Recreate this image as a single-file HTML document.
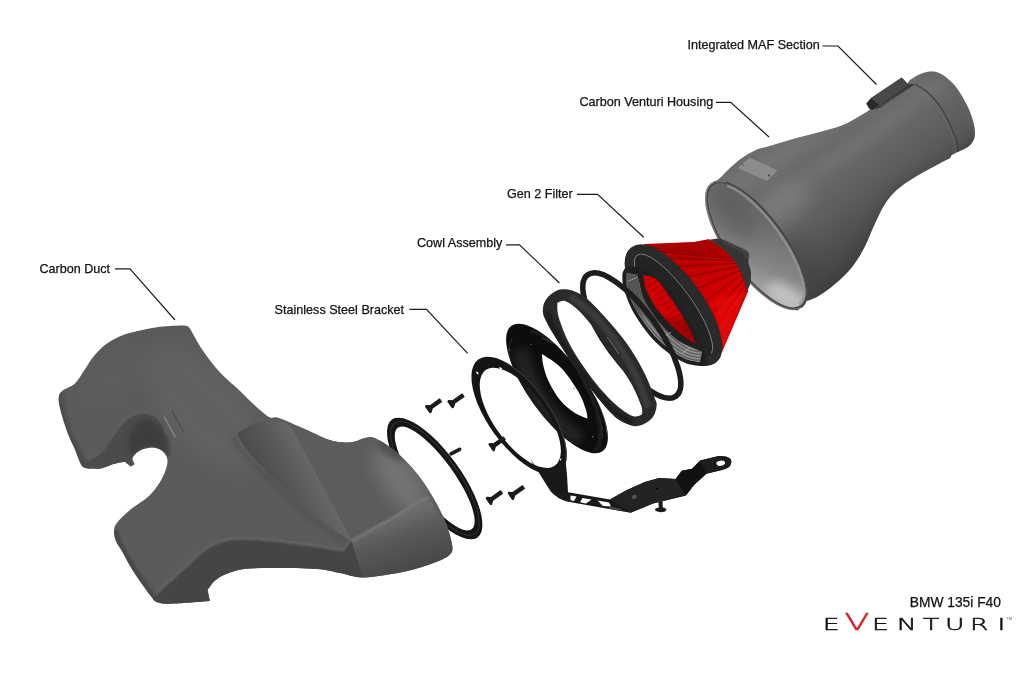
<!DOCTYPE html>
<html><head><meta charset="utf-8"><title>Eventuri BMW 135i F40 exploded view</title>
<style>
html,body{margin:0;padding:0;background:#fff;}
body{width:1024px;height:683px;overflow:hidden;}
svg{display:block}
.lb{font-family:"Liberation Sans",sans-serif;font-size:12.6px;fill:#111;stroke:#111;stroke-width:0.25px;}
.logo{font-family:"DejaVu Sans","Liberation Sans",sans-serif;font-weight:200;font-size:16.6px;fill:#111;stroke:#111;stroke-width:0.5px;vector-effect:non-scaling-stroke;}
.logoV{font-size:22.8px;fill:#d4202a;stroke:#d4202a;}
</style></head>
<body>
<svg width="1024" height="683" viewBox="0 0 1024 683">
<rect width="1024" height="683" fill="#fff"/>
<defs>
<filter id="b1" x="-20%" y="-20%" width="140%" height="140%"><feGaussianBlur stdDeviation="1"/></filter>
<filter id="b2" x="-20%" y="-20%" width="140%" height="140%"><feGaussianBlur stdDeviation="2.5"/></filter>
<filter id="b4" x="-30%" y="-30%" width="160%" height="160%"><feGaussianBlur stdDeviation="5"/></filter>
<filter id="b8" x="-30%" y="-30%" width="160%" height="160%"><feGaussianBlur stdDeviation="9"/></filter>
<linearGradient id="gHouse" gradientUnits="userSpaceOnUse" x1="803" y1="114.3" x2="897" y2="243.7">
  <stop offset="0" stop-color="#6c6c6c"/><stop offset="0.12" stop-color="#747474"/><stop offset="0.25" stop-color="#6a6a6a"/><stop offset="0.34" stop-color="#707070"/>
  <stop offset="0.45" stop-color="#666"/><stop offset="0.6" stop-color="#5d5d5d"/><stop offset="0.75" stop-color="#525252"/><stop offset="0.9" stop-color="#464646"/><stop offset="1" stop-color="#404040"/>
</linearGradient>
<linearGradient id="gInside" gradientUnits="userSpaceOnUse" x1="722" y1="188" x2="796" y2="304">
  <stop offset="0" stop-color="#5c5c5c"/><stop offset="0.3" stop-color="#6c6c6c"/><stop offset="0.6" stop-color="#858585"/><stop offset="0.85" stop-color="#aeaeae"/><stop offset="1" stop-color="#c6c6c6"/>
</linearGradient>
<linearGradient id="gRed" gradientUnits="userSpaceOnUse" x1="680" y1="238" x2="735" y2="335">
  <stop offset="0" stop-color="#b80000"/><stop offset="0.4" stop-color="#c20000"/><stop offset="0.7" stop-color="#d60000"/><stop offset="1" stop-color="#e20000"/>
</linearGradient>
<linearGradient id="gHump" gradientUnits="userSpaceOnUse" x1="247" y1="452" x2="293" y2="427">
  <stop offset="0" stop-color="#4b4b4b"/><stop offset="0.45" stop-color="#575757"/><stop offset="1" stop-color="#696969"/>
</linearGradient>
<linearGradient id="gCham" gradientUnits="userSpaceOnUse" x1="390" y1="520" x2="408" y2="572">
  <stop offset="0" stop-color="#6b6b6b"/><stop offset="0.35" stop-color="#595959"/><stop offset="1" stop-color="#484848"/>
</linearGradient>
</defs>
<clipPath id="cpHouse"><path d="M715.8,181.0 C716.5,180.5 717.6,180.2 720.0,178.0 C722.4,175.8 726.3,171.3 730.0,168.0 C733.7,164.7 737.7,161.0 742.0,158.0 C746.3,155.0 751.7,151.9 756.0,150.0 C760.3,148.1 761.8,148.3 768.0,146.5 C774.2,144.7 784.7,141.3 793.0,139.0 C801.3,136.7 809.7,134.8 818.0,132.5 C826.3,130.2 835.5,128.1 843.0,125.0 C850.5,121.9 858.0,116.9 863.0,114.0 C868.0,111.1 871.3,108.6 873.0,107.5 C871.9,106.8 867.4,104.2 866.3,103.5 C867.1,102.6 870.3,98.8 871.1,97.9 C876.2,94.5 896.6,80.8 901.7,77.4 C902.7,78.4 906.5,82.5 907.5,83.5 C907.9,82.9 909.4,80.6 909.8,80.0 C911.4,79.1 915.9,75.9 919.4,74.5 C922.9,73.1 926.9,71.6 930.7,71.6 C934.5,71.6 938.0,72.1 942.0,74.5 C946.0,76.9 950.9,81.0 954.9,85.8 C958.9,90.6 963.1,97.9 966.1,103.5 C969.1,109.1 971.1,114.8 972.6,119.6 C974.1,124.4 974.9,129.0 975.0,132.5 C975.1,136.0 974.6,138.1 973.4,140.5 C972.2,142.9 970.3,145.1 967.8,147.0 C965.2,148.9 960.8,150.5 958.1,151.8 C955.4,153.1 952.8,154.5 951.7,155.0 C951.4,155.6 950.3,157.8 950.0,158.3 C948.2,159.2 945.2,160.5 939.2,163.7 C933.2,166.9 921.3,173.1 914.3,177.4 C907.2,181.8 901.9,185.2 896.9,189.8 C891.9,194.4 888.2,198.9 884.5,204.7 C880.8,210.5 877.8,217.5 874.5,224.6 C871.2,231.7 868.3,239.9 864.6,247.0 C860.9,254.1 857.1,260.7 852.1,266.9 C847.1,273.1 840.5,279.3 834.7,284.3 C828.9,289.3 822.3,293.9 817.3,296.8 C812.3,299.7 807.2,300.6 804.9,301.7 C802.6,302.8 803.8,303.2 803.6,303.5 C803.0,304.2 801.4,306.9 800.0,308.0 C798.6,309.1 798.3,311.3 795.0,310.0 C791.7,308.7 789.2,309.2 780.0,300.0 C770.8,290.8 750.8,270.8 740.0,255.0 C729.2,239.2 719.0,217.3 715.0,205.0 C711.0,192.7 715.7,185.0 715.8,181.0 Z"/></clipPath>
<path d="M715.8,181.0 C716.5,180.5 717.6,180.2 720.0,178.0 C722.4,175.8 726.3,171.3 730.0,168.0 C733.7,164.7 737.7,161.0 742.0,158.0 C746.3,155.0 751.7,151.9 756.0,150.0 C760.3,148.1 761.8,148.3 768.0,146.5 C774.2,144.7 784.7,141.3 793.0,139.0 C801.3,136.7 809.7,134.8 818.0,132.5 C826.3,130.2 835.5,128.1 843.0,125.0 C850.5,121.9 858.0,116.9 863.0,114.0 C868.0,111.1 871.3,108.6 873.0,107.5 C871.9,106.8 867.4,104.2 866.3,103.5 C867.1,102.6 870.3,98.8 871.1,97.9 C876.2,94.5 896.6,80.8 901.7,77.4 C902.7,78.4 906.5,82.5 907.5,83.5 C907.9,82.9 909.4,80.6 909.8,80.0 C911.4,79.1 915.9,75.9 919.4,74.5 C922.9,73.1 926.9,71.6 930.7,71.6 C934.5,71.6 938.0,72.1 942.0,74.5 C946.0,76.9 950.9,81.0 954.9,85.8 C958.9,90.6 963.1,97.9 966.1,103.5 C969.1,109.1 971.1,114.8 972.6,119.6 C974.1,124.4 974.9,129.0 975.0,132.5 C975.1,136.0 974.6,138.1 973.4,140.5 C972.2,142.9 970.3,145.1 967.8,147.0 C965.2,148.9 960.8,150.5 958.1,151.8 C955.4,153.1 952.8,154.5 951.7,155.0 C951.4,155.6 950.3,157.8 950.0,158.3 C948.2,159.2 945.2,160.5 939.2,163.7 C933.2,166.9 921.3,173.1 914.3,177.4 C907.2,181.8 901.9,185.2 896.9,189.8 C891.9,194.4 888.2,198.9 884.5,204.7 C880.8,210.5 877.8,217.5 874.5,224.6 C871.2,231.7 868.3,239.9 864.6,247.0 C860.9,254.1 857.1,260.7 852.1,266.9 C847.1,273.1 840.5,279.3 834.7,284.3 C828.9,289.3 822.3,293.9 817.3,296.8 C812.3,299.7 807.2,300.6 804.9,301.7 C802.6,302.8 803.8,303.2 803.6,303.5 C803.0,304.2 801.4,306.9 800.0,308.0 C798.6,309.1 798.3,311.3 795.0,310.0 C791.7,308.7 789.2,309.2 780.0,300.0 C770.8,290.8 750.8,270.8 740.0,255.0 C729.2,239.2 719.0,217.3 715.0,205.0 C711.0,192.7 715.7,185.0 715.8,181.0 Z" fill="url(#gHouse)"/>
<g clip-path="url(#cpHouse)">
<path d="M800.0,318.0 C803.7,315.3 814.5,308.0 822.0,302.0 C829.5,296.0 838.3,289.3 845.0,282.0 C851.7,274.7 857.2,266.3 862.0,258.0 C866.8,249.7 870.0,240.3 874.0,232.0 C878.0,223.7 881.7,214.7 886.0,208.0 C890.3,201.3 892.7,197.7 900.0,192.0 C907.3,186.3 917.5,181.0 930.0,174.0 C942.5,167.0 967.5,154.0 975.0,150.0" fill="none" stroke="#3c3c3c" stroke-width="10" opacity="0.5" filter="url(#b4)"/>
<ellipse cx="783" cy="204" rx="30" ry="17" transform="rotate(-36 783 204)" fill="#858585" opacity="0.55" filter="url(#b8)"/>
<ellipse cx="800" cy="262" rx="26" ry="14" transform="rotate(60 800 262)" fill="#3e3e3e" opacity="0.35" filter="url(#b8)"/>
<path d="M722.0,180.0 C725.8,176.3 737.0,163.3 745.0,158.0 C753.0,152.7 757.5,152.0 770.0,148.0 C782.5,144.0 805.0,139.0 820.0,134.0 C835.0,129.0 853.3,120.7 860.0,118.0" fill="none" stroke="#6e6e6e" stroke-width="5" opacity="0.6" filter="url(#b2)"/>
<path d="M800.0,172.0 C805.0,170.0 820.3,164.3 830.0,160.0 C839.7,155.7 848.8,151.7 858.0,146.0 C867.2,140.3 875.5,133.0 885.0,126.0 C894.5,119.0 910.0,107.7 915.0,104.0" fill="none" stroke="#727272" stroke-width="7" opacity="0.6" filter="url(#b4)"/>
<path d="M925.0,74.0 C928.3,74.7 938.8,74.0 945.0,78.0 C951.2,82.0 957.5,90.2 962.0,98.0 C966.5,105.8 970.3,120.5 972.0,125.0" fill="none" stroke="#646464" stroke-width="6" opacity="0.55" filter="url(#b2)"/>
<path d="M958.0,152.0 C959.7,151.0 965.3,148.5 968.0,146.0 C970.7,143.5 973.0,138.5 974.0,137.0" fill="none" stroke="#424242" stroke-width="5" opacity="0.6" filter="url(#b2)"/>
<path d="M915.4,84.2 C917.4,85.5 923.3,88.5 927.5,92.2 C931.7,96.0 936.6,101.3 940.4,106.7 C944.1,112.1 947.3,118.8 950.0,124.4 C952.7,130.0 955.1,135.9 956.5,140.5 C957.9,145.1 957.8,150.1 958.1,152.0" fill="none" stroke="#3f3f3f" stroke-width="1.2"/>
<path d="M913.4,85.6 C915.4,87.0 921.2,90.0 925.3,93.8 C929.4,97.6 934.5,102.9 938.2,108.3 C942.0,113.7 945.1,120.4 947.8,126.0 C950.5,131.6 953.0,137.5 954.3,142.0 C955.6,146.5 955.5,151.2 955.8,153.0" fill="none" stroke="#6c6c6c" stroke-width="0.9" opacity="0.7"/>
</g>
<path d="M866.3,103.5 L871.1,97.9 L880,105 L872,110 L869,108.5 Z" fill="#2a2a2a"/>
<path d="M871.1,97.9 L901.7,77.4 L908.2,84.2 L880,105.5 Z" fill="#484848"/>
<path d="M880,105.5 L908.2,84.2 L916,84 L881,107.5 L872,110 Z" fill="#3a3a3a"/>
<path d="M880.8,106.7 L915.5,84.4" stroke="#707070" stroke-width="0.9" fill="none" opacity="0.8"/>
<path d="M738,168 L749.5,157.5 L777.5,170.5 L767,181 Z" fill="#8c8c8c"/>
<circle cx="769" cy="175.5" r="0.9" fill="#333"/><circle cx="743" cy="165" r="0.7" fill="#444"/>
<ellipse cx="756.3" cy="245.5" rx="77" ry="29.5" transform="rotate(54 756.3 245.5)" fill="#6e6e6e" stroke="none" stroke-width="0" />
<ellipse cx="756.6" cy="245.3" rx="74.9" ry="27.4" transform="rotate(54 756.6 245.3)" fill="url(#gInside)" stroke="none" stroke-width="0" />
<clipPath id="cpOpen"><ellipse cx="756.6" cy="245.3" rx="74.9" ry="27.4" transform="rotate(54 756.6 245.3)" fill="#000" stroke="none" stroke-width="0" /></clipPath>
<g clip-path="url(#cpOpen)">
<ellipse cx="735" cy="215" rx="30" ry="16" transform="rotate(54 735 215)" fill="#555" opacity="0.5" filter="url(#b8)"/>
<ellipse cx="786" cy="296" rx="22" ry="10" transform="rotate(30 786 296)" fill="#d0d0d0" opacity="0.7" filter="url(#b4)"/>
</g>
<ellipse cx="756.6" cy="245.3" rx="74.9" ry="27.4" transform="rotate(54 756.6 245.3)" fill="none" stroke="#474747" stroke-width="1.3" />
<ellipse cx="756.6" cy="245.3" rx="73.0" ry="25.6" transform="rotate(54 756.6 245.3)" fill="none" stroke="#969696" stroke-width="2.8" opacity="0.75" stroke-dasharray="150 400" stroke-dashoffset="-178"/>
<ellipse cx="756.3" cy="245.5" rx="76.4" ry="28.9" transform="rotate(54 756.3 245.5)" fill="none" stroke="#474747" stroke-width="1.5" stroke-dasharray="172 400" stroke-dashoffset="-176"/>
<ellipse cx="756.3" cy="245.5" rx="76.6" ry="29.1" transform="rotate(54 756.3 245.5)" fill="none" stroke="#858585" stroke-width="1.0" opacity="0.9" stroke-dasharray="60 400" stroke-dashoffset="-130"/>
<path id="cone" d="M640,247 L645,244 L694,241.9 L708.6,239.3 C730,250 745,270 748.2,291 L722,352 C715,320 690,270 640,247 Z" fill="url(#gRed)"/>
<clipPath id="cpCone"><path d="M640,247 L645,244 L694,241.9 L708.6,239.3 C730,250 745,270 748.2,291 L722,352 C715,320 690,270 640,247 Z"/></clipPath>
<g clip-path="url(#cpCone)">
<line x1="649.1" y1="246.9" x2="760" y2="262" stroke="#6e0000" stroke-width="1.1" opacity="0.6"/>
<line x1="653.6" y1="248.7" x2="760" y2="262" stroke="#e01510" stroke-width="1.1" opacity="0.35"/>
<line x1="658.2" y1="251.1" x2="760" y2="262" stroke="#6e0000" stroke-width="1.1" opacity="0.6"/>
<line x1="663.1" y1="254.2" x2="760" y2="262" stroke="#e01510" stroke-width="1.1" opacity="0.35"/>
<line x1="668.1" y1="257.7" x2="760" y2="262" stroke="#6e0000" stroke-width="1.1" opacity="0.6"/>
<line x1="673.1" y1="261.8" x2="760" y2="262" stroke="#e01510" stroke-width="1.1" opacity="0.35"/>
<line x1="678.1" y1="266.4" x2="760" y2="262" stroke="#6e0000" stroke-width="1.1" opacity="0.6"/>
<line x1="683.1" y1="271.4" x2="760" y2="262" stroke="#e01510" stroke-width="1.1" opacity="0.35"/>
<line x1="688.0" y1="276.8" x2="760" y2="262" stroke="#6e0000" stroke-width="1.1" opacity="0.6"/>
<line x1="692.7" y1="282.5" x2="760" y2="262" stroke="#e01510" stroke-width="1.1" opacity="0.35"/>
<line x1="697.2" y1="288.5" x2="760" y2="262" stroke="#6e0000" stroke-width="1.1" opacity="0.6"/>
<line x1="701.5" y1="294.6" x2="760" y2="262" stroke="#e01510" stroke-width="1.1" opacity="0.35"/>
<line x1="705.4" y1="300.9" x2="760" y2="262" stroke="#6e0000" stroke-width="1.1" opacity="0.6"/>
<line x1="709.0" y1="307.2" x2="760" y2="262" stroke="#e01510" stroke-width="1.1" opacity="0.35"/>
<line x1="712.1" y1="313.5" x2="760" y2="262" stroke="#6e0000" stroke-width="1.1" opacity="0.6"/>
<line x1="714.9" y1="319.7" x2="760" y2="262" stroke="#e01510" stroke-width="1.1" opacity="0.35"/>
<line x1="717.2" y1="325.7" x2="760" y2="262" stroke="#6e0000" stroke-width="1.1" opacity="0.6"/>
<line x1="719.0" y1="331.5" x2="760" y2="262" stroke="#e01510" stroke-width="1.1" opacity="0.35"/>
<line x1="720.3" y1="337.0" x2="760" y2="262" stroke="#6e0000" stroke-width="1.1" opacity="0.15"/>
<line x1="721.1" y1="342.2" x2="760" y2="262" stroke="#e01510" stroke-width="1.1" opacity="0.15"/>
<line x1="721.4" y1="346.9" x2="760" y2="262" stroke="#6e0000" stroke-width="1.1" opacity="0.15"/>
<line x1="721.1" y1="351.2" x2="760" y2="262" stroke="#e01510" stroke-width="1.1" opacity="0.15"/>
<line x1="720.3" y1="355.0" x2="760" y2="262" stroke="#6e0000" stroke-width="1.1" opacity="0.15"/>
<line x1="719.0" y1="358.2" x2="760" y2="262" stroke="#e01510" stroke-width="1.1" opacity="0.15"/>
<line x1="717.2" y1="360.9" x2="760" y2="262" stroke="#6e0000" stroke-width="1.1" opacity="0.15"/>
<line x1="714.9" y1="362.9" x2="760" y2="262" stroke="#e01510" stroke-width="1.1" opacity="0.15"/>
<line x1="712.1" y1="364.3" x2="760" y2="262" stroke="#6e0000" stroke-width="1.1" opacity="0.15"/>
<line x1="708.9" y1="365.0" x2="760" y2="262" stroke="#e01510" stroke-width="1.1" opacity="0.15"/>
<line x1="705.3" y1="365.1" x2="760" y2="262" stroke="#6e0000" stroke-width="1.1" opacity="0.15"/>
<line x1="701.4" y1="364.5" x2="760" y2="262" stroke="#e01510" stroke-width="1.1" opacity="0.15"/>
<path d="M640,246 L712,238 L735,252 L690,262 Z" fill="#8a0000" opacity="0.35" filter="url(#b2)"/>
<path d="M715,300 L748,290 L722,352 Z" fill="#f01010" opacity="0.55" filter="url(#b2)"/>
</g>
<path d="M706.4,240.2 C708.7,240.0 715.3,238.0 720.4,239.0 C725.5,240.0 732.5,244.0 736.8,246.0 C741.1,248.0 744.2,249.4 746.2,250.8 C748.2,252.2 748.6,253.7 749.1,254.3 C749.0,255.7 748.2,259.6 748.5,262.5 C748.8,265.4 750.6,268.3 750.9,271.8 C751.2,275.3 750.9,280.3 750.3,283.5 C749.7,286.7 747.7,289.8 747.2,291.0 C746.7,289.2 745.6,284.4 743.9,280.0 C742.2,275.6 739.9,269.7 736.8,264.8 C733.7,259.9 729.4,254.8 725.1,250.8 C720.8,246.8 714.1,242.6 711.0,240.8 C707.9,239.0 707.2,240.3 706.4,240.2 Z" fill="#353535"/>
<path d="M722.0,241.0 C724.5,242.1 733.0,245.6 737.0,247.5 C741.0,249.4 744.3,250.8 746.0,252.5 C747.7,254.2 746.8,257.1 747.0,258.0" fill="none" stroke="#4a4a4a" stroke-width="3" opacity="0.8" filter="url(#b1)"/>
<ellipse cx="673.5" cy="305.2" rx="66.5" ry="24.5" transform="rotate(54 673.5 305.2)" fill="#232323" stroke="#2a2a2a" stroke-width="10" />
<ellipse cx="673.5" cy="305.2" rx="61.8" ry="18.0" transform="rotate(54 673.5 305.2)" fill="none" stroke="#8a8a8a" stroke-width="0.8" stroke-dasharray="150 400" stroke-dashoffset="-117"/>
<path d="M629.0,266.5 C625.5,266.8 625.1,268.2 624.0,270.0 C622.9,271.8 622.2,273.5 622.3,277.0 C622.4,280.5 622.4,284.7 624.5,291.0 C626.6,297.3 629.8,306.5 635.0,315.0 C640.2,323.5 647.8,334.3 655.5,342.0 C663.2,349.7 673.6,357.0 681.0,361.0 C688.4,365.0 695.5,365.4 700.0,366.0 C704.5,366.6 706.7,364.8 708.0,364.5 C706.7,360.4 701.3,344.1 700.0,340.0 C695.0,331.7 675.0,298.3 670.0,290.0 C665.8,286.3 649.2,271.7 645.0,268.0 C642.3,267.8 632.5,266.2 629.0,266.5 Z" fill="#1f1f1f"/>
<clipPath id="cpMesh"><path d="M626.5,273.0 C626.7,275.9 625.6,283.7 627.5,290.3 C629.4,296.9 632.7,304.7 637.8,312.9 C642.9,321.1 650.5,331.9 658.0,339.3 C665.5,346.8 675.6,353.8 682.6,357.6 C689.6,361.4 697.1,361.5 700.0,362.3 C700.3,360.5 701.7,353.3 702.0,351.5 C700.8,351.0 699.2,350.7 695.0,348.7 C690.8,346.7 682.7,344.1 676.5,339.5 C670.3,334.9 663.5,327.8 658.0,321.0 C652.5,314.2 647.0,305.5 643.7,298.5 C640.5,291.5 639.6,283.0 638.5,279.0 C637.4,275.0 637.2,275.2 637.0,274.5 C635.2,274.2 628.2,273.2 626.5,273.0 Z"/></clipPath>
<path d="M626.5,273.0 C626.7,275.9 625.6,283.7 627.5,290.3 C629.4,296.9 632.7,304.7 637.8,312.9 C642.9,321.1 650.5,331.9 658.0,339.3 C665.5,346.8 675.6,353.8 682.6,357.6 C689.6,361.4 697.1,361.5 700.0,362.3 C700.3,360.5 701.7,353.3 702.0,351.5 C700.8,351.0 699.2,350.7 695.0,348.7 C690.8,346.7 682.7,344.1 676.5,339.5 C670.3,334.9 663.5,327.8 658.0,321.0 C652.5,314.2 647.0,305.5 643.7,298.5 C640.5,291.5 639.6,283.0 638.5,279.0 C637.4,275.0 637.2,275.2 637.0,274.5 C635.2,274.2 628.2,273.2 626.5,273.0 Z" fill="#777"/>
<g clip-path="url(#cpMesh)">
<path d="M627.5,290.3 C629.2,294.1 632.7,304.7 637.8,312.9 C642.9,321.1 650.5,331.9 658.0,339.3 C665.5,346.8 675.3,353.8 682.6,357.6 C689.9,361.4 698.8,361.5 702.0,362.3" fill="none" stroke="#a0a0a0" stroke-width="0.8"/>
<path d="M628.9,289.6 C630.6,293.3 634.1,303.9 639.1,312.0 C644.2,320.1 651.8,330.9 659.2,338.2 C666.6,345.6 676.2,352.6 683.4,356.3 C690.5,360.1 699.1,360.1 702.3,360.8" fill="none" stroke="#555" stroke-width="0.8"/>
<path d="M630.4,288.8 C632.0,292.5 635.5,303.0 640.5,311.1 C645.5,319.2 653.1,329.9 660.4,337.2 C667.7,344.5 677.1,351.4 684.1,355.1 C691.1,358.7 699.5,358.6 702.6,359.3" fill="none" stroke="#a0a0a0" stroke-width="0.8"/>
<path d="M631.8,288.1 C633.5,291.7 636.9,302.2 641.8,310.2 C646.8,318.2 654.4,328.9 661.6,336.2 C668.8,343.4 678.0,350.2 684.9,353.8 C691.7,357.4 699.9,357.1 702.9,357.8" fill="none" stroke="#555" stroke-width="0.8"/>
<path d="M633.2,287.3 C634.9,291.0 638.3,301.3 643.2,309.3 C648.1,317.3 655.7,327.9 662.8,335.1 C669.9,342.3 678.9,349.0 685.6,352.5 C692.3,356.0 700.3,355.7 703.2,356.3" fill="none" stroke="#a0a0a0" stroke-width="0.8"/>
<path d="M634.6,286.6 C636.3,290.2 639.7,300.5 644.5,308.4 C649.4,316.3 657.0,326.9 664.0,334.1 C671.0,341.2 679.8,347.8 686.4,351.2 C692.9,354.7 700.6,354.2 703.5,354.8" fill="none" stroke="#555" stroke-width="0.8"/>
<path d="M636.0,285.8 C637.7,289.4 641.0,299.6 645.9,307.5 C650.8,315.4 658.3,325.9 665.2,333.0 C672.1,340.1 680.7,346.6 687.1,350.0 C693.5,353.3 701.0,352.7 703.8,353.3" fill="none" stroke="#a0a0a0" stroke-width="0.8"/>
<path d="M637.5,285.1 C639.1,288.6 642.4,298.8 647.2,306.6 C652.1,314.4 659.6,324.9 666.4,331.9 C673.2,339.0 681.6,345.4 687.9,348.7 C694.1,352.0 701.4,351.3 704.1,351.8" fill="none" stroke="#555" stroke-width="0.8"/>
<path d="M638.9,284.3 C640.5,287.9 643.8,297.9 648.6,305.7 C653.4,313.5 660.9,324.0 667.6,330.9 C674.3,337.9 682.5,344.2 688.6,347.4 C694.7,350.6 701.8,349.8 704.4,350.3" fill="none" stroke="#a0a0a0" stroke-width="0.8"/>
<path d="M622,270 L642,270 L650,318 L630,310 Z" fill="#4a4a4a" opacity="0.75" filter="url(#b2)"/>
</g>
<path d="M628.5,281 L636.5,277.5" stroke="#e6e6e6" stroke-width="0.9" stroke-dasharray="1 1" fill="none"/>
<path d="M664,337.5 L671,332" stroke="#e6e6e6" stroke-width="0.9" stroke-dasharray="1 1" fill="none"/>
<path d="M682,353.5 L690,348" stroke="#e6e6e6" stroke-width="0.9" stroke-dasharray="1 1" fill="none"/>
<path d="M643.0,275.0 C645.2,275.7 651.8,275.8 656.0,279.0 C660.2,282.2 664.2,288.8 668.3,294.4 C672.4,300.0 676.9,306.8 680.6,312.9 C684.4,319.0 688.3,326.1 690.8,331.3 C693.3,336.5 694.7,341.9 695.5,344.0 C693.0,342.2 685.5,337.4 680.6,333.4 C675.7,329.4 670.6,324.8 666.2,320.0 C661.8,315.2 657.4,310.0 654.0,304.7 C650.6,299.4 647.5,293.2 645.7,288.3 C643.9,283.4 643.5,277.2 643.0,275.0 Z" fill="#d00000"/>
<clipPath id="cpLens"><path d="M643.0,275.0 C645.2,275.7 651.8,275.8 656.0,279.0 C660.2,282.2 664.2,288.8 668.3,294.4 C672.4,300.0 676.9,306.8 680.6,312.9 C684.4,319.0 688.3,326.1 690.8,331.3 C693.3,336.5 694.7,341.9 695.5,344.0 C693.0,342.2 685.5,337.4 680.6,333.4 C675.7,329.4 670.6,324.8 666.2,320.0 C661.8,315.2 657.4,310.0 654.0,304.7 C650.6,299.4 647.5,293.2 645.7,288.3 C643.9,283.4 643.5,277.2 643.0,275.0 Z"/></clipPath>
<g clip-path="url(#cpLens)">
<line x1="644.0" y1="282.0" x2="670.0" y2="266.0" stroke="#6a0000" stroke-width="0.9" opacity="0.65"/>
<line x1="647.6" y1="286.6" x2="673.6" y2="270.6" stroke="#6a0000" stroke-width="0.9" opacity="0.65"/>
<line x1="651.2" y1="291.2" x2="677.2" y2="275.2" stroke="#6a0000" stroke-width="0.9" opacity="0.65"/>
<line x1="654.8" y1="295.8" x2="680.8" y2="279.8" stroke="#6a0000" stroke-width="0.9" opacity="0.65"/>
<line x1="658.4" y1="300.4" x2="684.4" y2="284.4" stroke="#6a0000" stroke-width="0.9" opacity="0.65"/>
<line x1="662.0" y1="305.0" x2="688.0" y2="289.0" stroke="#6a0000" stroke-width="0.9" opacity="0.65"/>
<line x1="665.6" y1="309.6" x2="691.6" y2="293.6" stroke="#6a0000" stroke-width="0.9" opacity="0.65"/>
<line x1="669.2" y1="314.2" x2="695.2" y2="298.2" stroke="#6a0000" stroke-width="0.9" opacity="0.65"/>
<line x1="672.8" y1="318.8" x2="698.8" y2="302.8" stroke="#6a0000" stroke-width="0.9" opacity="0.65"/>
<line x1="676.4" y1="323.4" x2="702.4" y2="307.4" stroke="#6a0000" stroke-width="0.9" opacity="0.65"/>
<line x1="680.0" y1="328.0" x2="706.0" y2="312.0" stroke="#6a0000" stroke-width="0.9" opacity="0.65"/>
<line x1="683.6" y1="332.6" x2="709.6" y2="316.6" stroke="#6a0000" stroke-width="0.9" opacity="0.65"/>
<line x1="687.2" y1="337.2" x2="713.2" y2="321.2" stroke="#6a0000" stroke-width="0.9" opacity="0.65"/>
<line x1="690.8" y1="341.8" x2="716.8" y2="325.8" stroke="#6a0000" stroke-width="0.9" opacity="0.65"/>
<path d="M660,318 L690,345 L700,345 L690,320 Z" fill="#7a0000" opacity="0.5" filter="url(#b2)"/>
</g>
<ellipse cx="631.8" cy="335.5" rx="75" ry="26.2" transform="rotate(54 631.8 335.5)" fill="none" stroke="#1d1d1d" stroke-width="5.6" />
<path d="M542.8,309.4 C543.0,305.1 544.8,300.4 548.0,297.0 C551.2,293.6 556.5,289.5 562.2,289.2 C567.9,288.9 575.0,290.5 582.0,295.0 C589.0,299.5 596.7,308.1 604.0,316.0 C611.3,323.9 619.3,333.2 625.9,342.3 C632.5,351.4 638.6,361.8 643.4,370.9 C648.1,380.0 652.2,391.3 654.4,397.2 C656.6,403.1 657.0,402.5 656.6,406.0 C656.2,409.5 655.1,414.7 652.2,418.0 C649.3,421.3 643.4,424.9 639.0,425.8 C634.6,426.7 630.6,425.8 625.9,423.6 C621.1,421.4 617.8,420.3 610.5,412.6 C603.2,404.9 590.4,388.9 582.0,377.5 C573.6,366.1 565.9,353.7 560.0,344.5 C554.1,335.3 549.7,328.4 546.8,322.5 C543.9,316.6 542.6,313.6 542.8,309.4 Z M557.3,302.8 C558.6,302.5 561.6,299.9 565.0,301.0 C568.4,302.1 572.8,305.1 577.5,309.4 C582.2,313.7 587.5,319.7 593.0,327.0 C598.5,334.3 604.3,344.2 610.5,353.3 C616.7,362.4 625.2,373.1 630.3,381.9 C635.4,390.7 639.4,400.5 641.3,406.0 C643.2,411.5 641.7,413.3 641.8,414.8 C640.2,415.0 637.0,417.8 632.5,416.0 C628.0,414.2 621.5,409.9 614.9,403.8 C608.3,397.8 600.3,389.2 593.0,379.7 C585.7,370.2 576.7,357.0 571.0,346.7 C565.3,336.4 561.2,325.3 558.9,318.0 C556.6,310.7 557.6,305.3 557.3,302.8 Z" fill="#2a2a2a" fill-rule="evenodd"/>
<clipPath id="cpRA"><path d="M542.8,309.4 C543.0,305.1 544.8,300.4 548.0,297.0 C551.2,293.6 556.5,289.5 562.2,289.2 C567.9,288.9 575.0,290.5 582.0,295.0 C589.0,299.5 596.7,308.1 604.0,316.0 C611.3,323.9 619.3,333.2 625.9,342.3 C632.5,351.4 638.6,361.8 643.4,370.9 C648.1,380.0 652.2,391.3 654.4,397.2 C656.6,403.1 657.0,402.5 656.6,406.0 C656.2,409.5 655.1,414.7 652.2,418.0 C649.3,421.3 643.4,424.9 639.0,425.8 C634.6,426.7 630.6,425.8 625.9,423.6 C621.1,421.4 617.8,420.3 610.5,412.6 C603.2,404.9 590.4,388.9 582.0,377.5 C573.6,366.1 565.9,353.7 560.0,344.5 C554.1,335.3 549.7,328.4 546.8,322.5 C543.9,316.6 542.6,313.6 542.8,309.4 Z M557.3,302.8 C558.6,302.5 561.6,299.9 565.0,301.0 C568.4,302.1 572.8,305.1 577.5,309.4 C582.2,313.7 587.5,319.7 593.0,327.0 C598.5,334.3 604.3,344.2 610.5,353.3 C616.7,362.4 625.2,373.1 630.3,381.9 C635.4,390.7 639.4,400.5 641.3,406.0 C643.2,411.5 641.7,413.3 641.8,414.8 C640.2,415.0 637.0,417.8 632.5,416.0 C628.0,414.2 621.5,409.9 614.9,403.8 C608.3,397.8 600.3,389.2 593.0,379.7 C585.7,370.2 576.7,357.0 571.0,346.7 C565.3,336.4 561.2,325.3 558.9,318.0 C556.6,310.7 557.6,305.3 557.3,302.8 Z" clip-rule="evenodd"/></clipPath>
<g clip-path="url(#cpRA)">
<path d="M570.0,296.0 C574.2,299.3 587.0,307.8 595.0,316.0 C603.0,324.2 611.0,334.7 618.0,345.0 C625.0,355.3 632.0,367.5 637.0,378.0 C642.0,388.5 646.2,403.0 648.0,408.0" fill="none" stroke="#3a3a3a" stroke-width="7" filter="url(#b1)"/>
<path d="M546.0,312.0 C548.3,316.7 553.8,329.7 560.0,340.0 C566.2,350.3 574.5,362.5 583.0,374.0 C591.5,385.5 602.8,401.0 611.0,409.0 C619.2,417.0 628.5,419.8 632.0,422.0" fill="none" stroke="#1e1e1e" stroke-width="6" filter="url(#b1)"/>
<path d="M607.0,337.0 C608.0,338.3 611.1,342.2 613.0,345.0 C614.9,347.8 617.6,352.5 618.5,354.0" fill="none" stroke="#8a8a8a" stroke-width="0.9" opacity="0.8"/>
</g>
<ellipse cx="557" cy="388.5" rx="77.5" ry="28" transform="rotate(54 557 388.5)" fill="#0d0d0d" stroke="none" stroke-width="0" />
<clipPath id="cpCowl"><ellipse cx="557" cy="388.5" rx="77.5" ry="28" transform="rotate(54 557 388.5)" fill="#000" stroke="none" stroke-width="0" /></clipPath>
<g clip-path="url(#cpCowl)">
<path d="M520.0,350.0 C522.0,355.8 526.0,373.3 532.0,385.0 C538.0,396.7 548.0,410.8 556.0,420.0 C564.0,429.2 576.0,436.7 580.0,440.0" fill="none" stroke="#262626" stroke-width="14" filter="url(#b4)"/>
<path d="M542.2,334.8 C545.3,336.2 554.9,338.8 560.9,343.5 C566.9,348.2 572.9,355.2 578.4,363.3 C583.9,371.4 589.4,382.3 593.8,391.8 C598.2,401.3 602.5,412.9 604.8,420.4 C607.1,427.9 607.0,434.2 607.5,437.0" fill="none" stroke="#4c4c4c" stroke-width="1.1"/>
<path d="M542.2,338.0 C544.9,339.4 553.0,341.8 558.5,346.5 C564.0,351.2 569.8,358.4 575.0,366.0 C580.2,373.6 585.3,382.9 589.5,392.0 C593.7,401.1 597.8,412.7 600.0,420.4 C602.2,428.1 602.1,435.1 602.5,438.0" fill="none" stroke="#3d3d3d" stroke-width="1.4"/>
<path d="M512.0,338.0 C511.5,340.0 508.8,345.0 509.0,350.0 C509.2,355.0 510.5,361.0 513.0,368.0 C515.5,375.0 519.5,384.0 524.0,392.0 C528.5,400.0 537.3,412.0 540.0,416.0" fill="none" stroke="#2e2e2e" stroke-width="1"/>
<path d="M530.0,331.0 C533.0,332.0 542.0,333.5 548.0,337.0 C554.0,340.5 560.0,344.8 566.0,352.0 C572.0,359.2 578.8,370.0 584.0,380.0 C589.2,390.0 594.3,402.0 597.0,412.0 C599.7,422.0 600.5,433.3 600.0,440.0 C599.5,446.7 595.0,450.0 594.0,452.0" fill="none" stroke="#1c1c1c" stroke-width="4" filter="url(#b1)"/>
</g>
<path d="M542.0,354.0 C545.2,356.3 554.9,361.4 561.0,367.7 C567.1,374.0 574.2,384.8 578.4,391.8 C582.6,398.9 584.5,405.6 586.0,410.0 C587.5,414.4 587.2,417.1 587.5,418.5 C585.4,417.6 579.6,416.1 575.0,413.0 C570.4,409.9 564.5,405.5 560.0,400.0 C555.5,394.5 550.8,386.0 548.0,380.0 C545.2,374.0 544.0,368.3 543.0,364.0 C542.0,359.7 542.2,355.7 542.0,354.0 Z" fill="#fff"/>
<circle cx="531.2" cy="344.6" r="0.7" fill="#777"/>
<circle cx="509.3" cy="350" r="0.7" fill="#777"/>
<circle cx="574" cy="388.5" r="0.7" fill="#777"/>
<circle cx="592.7" cy="436.8" r="0.7" fill="#777"/>
<circle cx="570.7" cy="442.3" r="0.7" fill="#777"/>
<path d="M560.0,472.0 L556.4,473.8 L552.2,474.7 L547.4,474.6 L542.1,473.4 L536.5,471.3 L530.5,468.2 L524.4,464.2 L518.2,459.4 L511.9,453.8 L505.8,447.6 L500.0,440.9 L494.4,433.7 L489.3,426.2 L484.7,418.5 L480.7,410.8 L477.3,403.2 L474.7,395.7 L472.8,388.7 L471.7,382.1 L471.4,376.0 L471.9,370.7 L473.3,366.1 L475.4,362.3 L478.2,359.5 L481.8,357.7 L486.0,356.8 L490.8,356.9 L496.1,358.1 L501.7,360.2 L507.7,363.3 L513.8,367.3 L520.0,372.1 L526.3,377.7 L532.4,383.9 L538.2,390.6 L543.8,397.8 L548.9,405.3 L553.5,413.0 L557.5,420.7 L560.9,428.3 L563.5,435.8 L565.4,442.8 L566.5,449.4 L566.8,455.5 L566.3,460.8 L564.9,465.4 L562.8,469.2 Z M555.0,465.6 L551.9,467.2 L548.4,467.9 L544.3,467.8 L539.8,466.8 L535.0,465.0 L529.9,462.4 L524.7,459.0 L519.4,455.0 L514.1,450.2 L509.0,445.0 L504.0,439.2 L499.3,433.1 L494.9,426.8 L491.0,420.3 L487.6,413.7 L484.7,407.2 L482.5,400.9 L480.9,394.9 L480.0,389.3 L479.7,384.2 L480.2,379.6 L481.4,375.7 L483.2,372.5 L485.6,370.1 L488.7,368.5 L492.2,367.8 L496.3,367.9 L500.8,368.9 L505.6,370.7 L510.7,373.3 L515.9,376.7 L521.2,380.7 L526.5,385.5 L531.6,390.7 L536.6,396.5 L541.3,402.6 L545.7,408.9 L549.6,415.4 L553.0,422.0 L555.9,428.5 L558.1,434.8 L559.7,440.8 L560.6,446.4 L560.9,451.5 L560.4,456.1 L559.2,460.0 L557.4,463.2 Z" fill="#151515" fill-rule="evenodd"/>
<ellipse cx="519.6" cy="415.4" rx="68.6" ry="29.4" transform="rotate(54 519.6 415.4)" fill="none" stroke="#454545" stroke-width="0.9" stroke-dasharray="140 500" stroke-dashoffset="-190"/>
<ellipse cx="477.4" cy="372.9" rx="1.7" ry="0.8" transform="rotate(52 477.4 372.9)" fill="#fff"/>
<ellipse cx="500.6" cy="368.2" rx="1.7" ry="0.8" transform="rotate(20 500.6 368.2)" fill="#fff"/>
<ellipse cx="496.9" cy="422.7" rx="1.7" ry="0.8" transform="rotate(60 496.9 422.7)" fill="#fff"/>
<ellipse cx="537.9" cy="465.2" rx="1.7" ry="0.8" transform="rotate(35 537.9 465.2)" fill="#fff"/>
<ellipse cx="561" cy="460" rx="1.7" ry="0.8" transform="rotate(70 561 460)" fill="#fff"/>
<path d="M530,457.4 L540.3,474.9 L550.5,491.3 C556,497 561,500 566.9,501.5 L630.5,512.8 L653,503.6 L685.9,495.4 L694,485 L706.4,473.8 L722.8,469.7 C727,468.5 729.5,467 730.5,465 C731.8,462.5 731.5,460 730,458.5 C728,456.8 724,456 718.7,456 L700.2,460.5 L692,468.7 L681.8,470.8 L675.6,479 L659.2,478 L644.8,482 L626.4,490.2 L610,499.5 L568,492.3 L567,474.9 L565.5,460 L562.5,457.5 L557,466.5 L547,469.5 L534,466 Z" fill="#191919"/>
<path d="M610,499.5 L626.4,490.2 L644.8,482 L659.2,478 L675.6,479 L685.9,495.4 L653,503.6 L630.5,512.8 Z" fill="#232323"/>
<path d="M675.6,479 L681.8,470.8 L692,468.7 L700.2,460.5 L706.4,473.8 L694,485 L685.9,495.4 Z" fill="#111"/>
<path d="M700.2,460.5 L718.7,456 C724,456 728,456.8 730,458.5 C731.5,460 731.8,462.5 730.5,465 C729.5,467 727,468.5 722.8,469.7 L706.4,473.8 Z" fill="#1d1d1d"/>
<path d="M570.5,495.5 L576.5,496.5 L574,501 L570.5,500.3 Z" fill="#fff"/>
<path d="M582.5,498 L591.5,499.5 L586,503.5 L580,502.3 Z" fill="#fff"/>
<path d="M597.5,500.5 L609,502.5 L611,506.5 L603,506 Z" fill="#fff"/>
<path d="M611,506.8 L622,509 L619.5,510.8 L607.5,508.5 Z" fill="#444"/>
<ellipse cx="720.7" cy="463.2" rx="4.4" ry="2.6" transform="rotate(-8 720.7 463.2)" fill="#fff"/>
<ellipse cx="657" cy="488.8" rx="1.5" ry="1" fill="#0a0a0a"/>
<path d="M631.5,496 L636,494.5 L637,498 L633,499.5 Z" fill="#555"/>
<path d="M658.5,502 L662.5,501 L662.8,507.5 C665,507.8 666.5,508.7 666.4,510 C666,511.6 663,512.3 660.3,512.2 C657.5,512 655,511 655,509.6 C655,508.4 656.8,507.8 658.7,507.7 Z" fill="#1a1a1a"/>
<path d="M430.0,412.5 L431.0,412.2 L432.1,408.3 L441.4,401.6 L439.6,399.0 L430.3,405.8 L426.2,405.6 L425.6,406.5 Z" fill="#1b1b1b" stroke="#1b1b1b" stroke-width="1.3" stroke-linejoin="round"/>
<path d="M452.3,407.5 L453.4,407.2 L454.5,403.3 L463.9,396.6 L462.1,394.0 L452.7,400.8 L448.6,400.6 L448.0,401.5 Z" fill="#1b1b1b" stroke="#1b1b1b" stroke-width="1.3" stroke-linejoin="round"/>
<path d="M493.2,450.6 L494.2,450.4 L495.4,446.4 L505.1,439.7 L503.3,437.1 L493.6,443.9 L489.6,443.6 L489.0,444.5 Z" fill="#1b1b1b" stroke="#1b1b1b" stroke-width="1.3" stroke-linejoin="round"/>
<path d="M490.5,504.4 L491.5,504.2 L492.7,500.2 L502.4,493.5 L500.6,490.9 L490.9,497.7 L486.9,497.4 L486.3,498.3 Z" fill="#1b1b1b" stroke="#1b1b1b" stroke-width="1.3" stroke-linejoin="round"/>
<path d="M512.5,499.3 L513.5,499.1 L514.7,495.1 L524.3,488.5 L522.5,485.9 L512.9,492.6 L508.9,492.3 L508.3,493.2 Z" fill="#1b1b1b" stroke="#1b1b1b" stroke-width="1.3" stroke-linejoin="round"/>
<path d="M451,453.8 L459.6,449.4" stroke="#1b1b1b" stroke-width="3.6" stroke-linecap="round" fill="none"/>
<path d="M477.5,537.4 L474.4,538.9 L470.6,539.3 L466.2,538.8 L461.2,537.1 L455.8,534.5 L450.1,531.0 L444.1,526.5 L437.9,521.2 L431.6,515.2 L425.5,508.5 L419.4,501.3 L413.7,493.8 L408.3,486.0 L403.3,478.0 L398.9,470.1 L395.1,462.3 L392.0,454.8 L389.6,447.7 L387.9,441.1 L387.1,435.1 L387.1,429.9 L387.9,425.6 L389.5,422.1 L391.9,419.6 L395.0,418.1 L398.8,417.7 L403.2,418.2 L408.2,419.9 L413.6,422.5 L419.3,426.0 L425.3,430.5 L431.5,435.8 L437.8,441.8 L443.9,448.5 L450.0,455.7 L455.7,463.2 L461.1,471.0 L466.1,479.0 L470.5,486.9 L474.3,494.7 L477.4,502.2 L479.8,509.3 L481.5,515.9 L482.3,521.9 L482.3,527.1 L481.5,531.4 L479.9,534.9 Z M471.6,529.3 L469.3,530.3 L466.4,530.5 L462.9,529.7 L459.0,528.1 L454.6,525.6 L449.9,522.3 L445.0,518.3 L439.8,513.6 L434.6,508.3 L429.4,502.4 L424.3,496.2 L419.3,489.7 L414.6,482.9 L410.3,476.1 L406.4,469.4 L402.9,462.8 L400.0,456.4 L397.7,450.5 L396.1,445.0 L395.0,440.1 L394.7,435.8 L395.1,432.3 L396.1,429.6 L397.8,427.7 L400.1,426.7 L403.0,426.5 L406.5,427.3 L410.4,428.9 L414.8,431.4 L419.5,434.7 L424.4,438.7 L429.6,443.4 L434.8,448.7 L440.0,454.6 L445.1,460.8 L450.1,467.3 L454.8,474.1 L459.1,480.9 L463.0,487.6 L466.5,494.2 L469.4,500.6 L471.7,506.5 L473.3,512.0 L474.4,516.9 L474.7,521.2 L474.3,524.7 L473.3,527.4 Z" fill="#151515" fill-rule="evenodd"/>
<ellipse cx="434.9" cy="478.3" rx="68.4" ry="22.8" transform="rotate(54 434.9 478.3)" fill="none" stroke="#2e2e2e" stroke-width="1.2" />
<clipPath id="cpDuct"><path d="M59.0,396.0 C59.6,393.0 60.7,392.1 63.4,390.0 C66.1,387.9 71.5,386.7 75.0,383.4 C78.5,380.1 81.3,374.6 84.5,370.0 C87.7,365.4 90.4,360.2 93.9,356.0 C97.4,351.8 101.3,347.8 105.6,344.5 C109.9,341.2 114.9,338.6 119.6,336.5 C124.3,334.4 127.5,333.4 133.7,331.9 C139.9,330.3 148.6,328.3 157.0,327.2 C165.4,326.1 178.5,325.3 184.0,325.5 C189.5,325.7 189.0,328.0 190.0,328.5 C192.1,332.1 197.5,342.7 202.5,350.0 C207.5,357.3 213.8,365.7 220.0,372.5 C226.2,379.3 235.0,386.2 240.0,391.0 C245.0,395.8 246.7,397.8 250.0,401.0 C253.3,404.2 256.7,407.2 260.0,410.0 C263.3,412.8 266.8,416.2 270.0,417.5 C273.2,418.8 273.6,416.2 279.0,418.0 C284.4,419.8 294.2,424.4 302.5,428.0 C310.8,431.6 321.7,437.4 328.8,439.8 C335.9,442.2 340.6,442.2 345.0,442.5 C349.4,442.8 351.8,442.2 355.0,441.5 C358.2,440.8 360.6,438.8 364.0,438.3 C367.4,437.8 369.9,435.8 375.7,438.5 C381.5,441.2 391.2,447.3 399.0,454.4 C406.8,461.4 415.2,470.5 422.5,480.8 C429.8,491.1 438.2,505.8 443.0,516.0 C447.8,526.2 450.3,535.7 451.5,542.0 C452.7,548.3 453.3,550.5 450.4,554.0 C447.5,557.5 441.6,559.9 434.0,562.8 C426.4,565.7 416.7,569.1 405.0,571.5 C393.3,573.9 374.8,577.1 364.0,577.4 C353.2,577.6 347.8,574.4 340.0,573.0 C332.2,571.6 327.8,569.8 317.0,569.0 C306.2,568.2 287.2,568.0 275.0,568.0 C262.8,568.0 252.3,567.9 244.0,569.0 C235.7,570.1 229.9,572.5 225.0,574.5 C220.1,576.5 217.5,578.4 214.6,581.0 C211.7,583.6 208.7,588.5 207.5,590.0 C207.9,591.8 209.6,599.2 210.0,601.0 C204.2,601.4 183.7,603.2 175.0,603.5 C166.3,603.8 162.2,603.9 158.0,602.5 C153.8,601.1 154.2,600.4 150.0,595.0 C145.8,589.6 137.1,577.2 132.5,570.0 C127.9,562.8 125.2,556.8 122.5,552.0 C119.8,547.2 117.4,544.7 116.0,541.0 C114.6,537.3 113.7,533.2 114.0,530.0 C114.3,526.8 115.3,524.8 118.0,521.5 C120.7,518.2 124.7,514.4 130.0,510.0 C135.3,505.6 144.6,500.4 150.0,495.0 C155.4,489.6 159.6,483.2 162.5,477.5 C165.4,471.8 167.5,465.4 167.5,461.0 C167.5,456.6 165.0,453.2 162.5,451.0 C160.0,448.8 156.2,447.6 152.5,447.5 C148.8,447.4 143.3,448.8 140.0,450.5 C136.7,452.2 133.4,455.8 132.5,458.0 C131.6,460.2 134.8,462.6 134.5,464.0 C134.2,465.4 131.2,466.1 130.5,466.5 C129.6,465.7 125.9,462.6 125.0,461.8 C123.8,462.0 120.2,462.5 118.0,463.0 C115.8,463.5 114.6,463.7 111.9,464.6 C109.2,465.5 105.2,467.7 101.7,468.4 C98.2,469.1 94.0,468.9 91.0,468.8 C88.0,468.7 85.8,468.4 84.0,467.5 C82.2,466.6 82.0,466.5 80.5,463.5 C79.0,460.5 77.2,454.8 75.0,449.6 C72.8,444.4 70.0,439.4 67.5,432.5 C65.0,425.6 61.4,414.1 60.0,408.0 C58.6,401.9 58.4,399.0 59.0,396.0 Z"/></clipPath>
<path d="M59.0,396.0 C59.6,393.0 60.7,392.1 63.4,390.0 C66.1,387.9 71.5,386.7 75.0,383.4 C78.5,380.1 81.3,374.6 84.5,370.0 C87.7,365.4 90.4,360.2 93.9,356.0 C97.4,351.8 101.3,347.8 105.6,344.5 C109.9,341.2 114.9,338.6 119.6,336.5 C124.3,334.4 127.5,333.4 133.7,331.9 C139.9,330.3 148.6,328.3 157.0,327.2 C165.4,326.1 178.5,325.3 184.0,325.5 C189.5,325.7 189.0,328.0 190.0,328.5 C192.1,332.1 197.5,342.7 202.5,350.0 C207.5,357.3 213.8,365.7 220.0,372.5 C226.2,379.3 235.0,386.2 240.0,391.0 C245.0,395.8 246.7,397.8 250.0,401.0 C253.3,404.2 256.7,407.2 260.0,410.0 C263.3,412.8 266.8,416.2 270.0,417.5 C273.2,418.8 273.6,416.2 279.0,418.0 C284.4,419.8 294.2,424.4 302.5,428.0 C310.8,431.6 321.7,437.4 328.8,439.8 C335.9,442.2 340.6,442.2 345.0,442.5 C349.4,442.8 351.8,442.2 355.0,441.5 C358.2,440.8 360.6,438.8 364.0,438.3 C367.4,437.8 369.9,435.8 375.7,438.5 C381.5,441.2 391.2,447.3 399.0,454.4 C406.8,461.4 415.2,470.5 422.5,480.8 C429.8,491.1 438.2,505.8 443.0,516.0 C447.8,526.2 450.3,535.7 451.5,542.0 C452.7,548.3 453.3,550.5 450.4,554.0 C447.5,557.5 441.6,559.9 434.0,562.8 C426.4,565.7 416.7,569.1 405.0,571.5 C393.3,573.9 374.8,577.1 364.0,577.4 C353.2,577.6 347.8,574.4 340.0,573.0 C332.2,571.6 327.8,569.8 317.0,569.0 C306.2,568.2 287.2,568.0 275.0,568.0 C262.8,568.0 252.3,567.9 244.0,569.0 C235.7,570.1 229.9,572.5 225.0,574.5 C220.1,576.5 217.5,578.4 214.6,581.0 C211.7,583.6 208.7,588.5 207.5,590.0 C207.9,591.8 209.6,599.2 210.0,601.0 C204.2,601.4 183.7,603.2 175.0,603.5 C166.3,603.8 162.2,603.9 158.0,602.5 C153.8,601.1 154.2,600.4 150.0,595.0 C145.8,589.6 137.1,577.2 132.5,570.0 C127.9,562.8 125.2,556.8 122.5,552.0 C119.8,547.2 117.4,544.7 116.0,541.0 C114.6,537.3 113.7,533.2 114.0,530.0 C114.3,526.8 115.3,524.8 118.0,521.5 C120.7,518.2 124.7,514.4 130.0,510.0 C135.3,505.6 144.6,500.4 150.0,495.0 C155.4,489.6 159.6,483.2 162.5,477.5 C165.4,471.8 167.5,465.4 167.5,461.0 C167.5,456.6 165.0,453.2 162.5,451.0 C160.0,448.8 156.2,447.6 152.5,447.5 C148.8,447.4 143.3,448.8 140.0,450.5 C136.7,452.2 133.4,455.8 132.5,458.0 C131.6,460.2 134.8,462.6 134.5,464.0 C134.2,465.4 131.2,466.1 130.5,466.5 C129.6,465.7 125.9,462.6 125.0,461.8 C123.8,462.0 120.2,462.5 118.0,463.0 C115.8,463.5 114.6,463.7 111.9,464.6 C109.2,465.5 105.2,467.7 101.7,468.4 C98.2,469.1 94.0,468.9 91.0,468.8 C88.0,468.7 85.8,468.4 84.0,467.5 C82.2,466.6 82.0,466.5 80.5,463.5 C79.0,460.5 77.2,454.8 75.0,449.6 C72.8,444.4 70.0,439.4 67.5,432.5 C65.0,425.6 61.4,414.1 60.0,408.0 C58.6,401.9 58.4,399.0 59.0,396.0 Z" fill="#5b5b5b"/>
<g clip-path="url(#cpDuct)">
<ellipse cx="205" cy="410" rx="80" ry="38" transform="rotate(48 205 410)" fill="#666" opacity="0.6" filter="url(#b8)"/>
<ellipse cx="120" cy="375" rx="45" ry="22" transform="rotate(-30 120 375)" fill="#616161" opacity="0.5" filter="url(#b8)"/>
<path d="M57.0,392.0 C58.2,397.5 60.5,414.5 64.0,425.0 C67.5,435.5 74.0,447.5 78.0,455.0 C82.0,462.5 86.3,467.5 88.0,470.0" fill="none" stroke="#474747" stroke-width="9" opacity="0.8" filter="url(#b2)"/>
<path d="M66.0,392.0 C67.0,397.0 68.8,412.0 72.0,422.0 C75.2,432.0 81.7,445.0 85.0,452.0 C88.3,459.0 90.8,462.0 92.0,464.0" fill="none" stroke="#686868" stroke-width="1.2" opacity="0.7" filter="url(#b1)"/>
<path d="M86.0,466.0 C81.3,463.7 93.9,459.2 100.0,452.0 C106.1,444.8 115.8,429.5 122.5,423.0 C129.2,416.5 134.2,413.9 140.0,413.0 C145.8,412.1 152.9,413.8 157.5,417.5 C162.1,421.2 165.6,428.6 167.5,435.0 C169.4,441.4 171.9,454.2 169.0,456.0 C166.1,457.8 155.8,446.0 150.0,446.0 C144.2,446.0 137.7,452.7 134.0,456.0 C130.3,459.3 136.0,464.3 128.0,466.0 C120.0,467.7 90.7,468.3 86.0,466.0 Z" fill="#4b4b4b" filter="url(#b1)"/>
<path d="M136.0,424.0 C139.7,420.7 145.5,418.7 150.0,420.0 C154.5,421.3 160.3,426.7 163.0,432.0 C165.7,437.3 167.8,449.7 166.0,452.0 C164.2,454.3 156.3,446.5 152.0,446.0 C147.7,445.5 143.2,447.3 140.0,449.0 C136.8,450.7 135.0,457.5 133.0,456.0 C131.0,454.5 127.5,445.3 128.0,440.0 C128.5,434.7 132.3,427.3 136.0,424.0 Z" fill="#3c3c3c" filter="url(#b2)"/>
<path d="M85.0,458.0 C87.7,457.0 94.7,457.9 100.9,452.0 C107.2,446.1 116.0,429.1 122.5,422.5 C129.0,415.9 134.2,413.3 140.0,412.5 C145.8,411.7 152.9,413.8 157.5,417.5 C162.1,421.2 165.8,432.1 167.5,435.0" fill="none" stroke="#6e6e6e" stroke-width="1.3" opacity="0.85" filter="url(#b1)"/>
<path d="M164,416.6 L175.4,436.9" stroke="#8e8e8e" stroke-width="1.1" fill="none"/>
<path d="M171.6,410.2 L183.6,431.8" stroke="#3f3f3f" stroke-width="0.9" fill="none"/>
<path d="M164,416.6 L171.6,410.2" stroke="#6e6e6e" stroke-width="0.7" fill="none"/>
<path d="M232.0,436.0 C234.7,439.7 240.0,449.0 248.0,458.0 C256.0,467.0 268.3,479.2 280.0,490.0 C291.7,500.8 307.0,514.5 318.0,523.0 C329.0,531.5 341.3,538.0 346.0,541.0" fill="none" stroke="#4c4c4c" stroke-width="5" opacity="0.5" filter="url(#b2)"/>
<path d="M236.7,433.5 C239.8,431.7 249.2,425.1 255.5,422.7 C261.8,420.3 268.3,418.8 274.2,419.4 C280.1,420.0 287.9,425.3 290.6,426.5 C300.8,445.6 341.4,522.1 351.5,541.2 C346.4,537.7 332.3,529.0 321.0,520.0 C309.7,511.0 295.3,498.3 283.6,487.4 C271.9,476.5 258.6,463.6 250.8,454.6 C243.0,445.6 239.0,437.0 236.7,433.5 Z" fill="url(#gHump)"/>
<path d="M290.6,426.5 L351.5,541.2 L428.8,496.7 C420,470 400,452 376,438 L345,442.5 L302,428 Z" fill="#5c5c5c"/>
<ellipse cx="400" cy="480" rx="40" ry="17" transform="rotate(55 400 480)" fill="#7a7a7a" opacity="0.8" filter="url(#b8)"/>
<ellipse cx="392" cy="450" rx="16" ry="7" transform="rotate(35 392 450)" fill="#484848" opacity="0.7" filter="url(#b2)"/>
<path d="M290.6,426.5 L351.5,541.2" stroke="#6c6c6c" stroke-width="1" fill="none" opacity="0.7"/>
<path d="M351.5,541.2 L428.8,496.7 L453,540 L453,556 L420,570 L364,579 L343,549 Z" fill="url(#gCham)"/>
<path d="M351.5,541.2 L428.8,496.7" stroke="#7d7d7d" stroke-width="2" fill="none" filter="url(#b1)"/>
<path d="M154.8,595.0 C159.1,591.1 172.3,579.1 180.5,571.7 C188.7,564.3 197.0,555.7 204.0,550.6 C211.0,545.5 214.9,543.2 222.7,541.2 C230.5,539.2 238.3,538.5 250.8,538.9 C263.3,539.3 282.0,541.6 297.6,543.6 C313.2,545.6 336.7,549.4 344.5,550.6 L351.5,541.2 L364,580 L340,576 L244,572 L210,587 L212,608 L150,608 Z" fill="#454545"/>
<path d="M113.0,531.0 C114.2,534.0 116.3,542.0 120.0,549.0 C123.7,556.0 129.5,564.8 135.0,573.0 C140.5,581.2 150.0,593.8 153.0,598.0" fill="none" stroke="#474747" stroke-width="10" opacity="0.85" filter="url(#b1)"/>
<path d="M154.8,595.0 C159.1,591.1 172.3,579.1 180.5,571.7 C188.7,564.3 197.0,555.7 204.0,550.6 C211.0,545.5 214.9,543.2 222.7,541.2 C230.5,539.2 238.3,538.5 250.8,538.9 C263.3,539.3 282.0,541.6 297.6,543.6 C313.2,545.6 336.7,549.4 344.5,550.6" stroke="#6d6d6d" stroke-width="1.6" fill="none" filter="url(#b1)"/>
<path d="M120.0,532.0 C121.2,534.7 123.5,541.3 127.0,548.0 C130.5,554.7 136.3,564.5 141.0,572.0 C145.7,579.5 152.7,589.5 155.0,593.0" stroke="#656565" stroke-width="1.1" fill="none" opacity="0.8" filter="url(#b1)"/>
</g>
<g opacity="0.995">
<text x="687.4" y="48.8" class="lb">Integrated MAF Section</text>
<path d="M822.5,46 L838,46 L876.5,84.5" fill="none" stroke="#1a1a1a" stroke-width="1.2"/>
<text x="579.5" y="106" class="lb">Carbon Venturi Housing</text>
<path d="M716,102.4 L730.7,102.4 L769,137" fill="none" stroke="#1a1a1a" stroke-width="1.2"/>
<text x="507" y="197.5" class="lb">Gen 2 Filter</text>
<path d="M577,194.4 L597.6,194.4 L643.7,237.3" fill="none" stroke="#1a1a1a" stroke-width="1.2"/>
<text x="417" y="246.7" class="lb">Cowl Assembly</text>
<path d="M506,244.8 L519.5,244.8 L559.4,283" fill="none" stroke="#1a1a1a" stroke-width="1.2"/>
<text x="274.6" y="313.5" class="lb">Stainless Steel Bracket</text>
<path d="M409.4,309.3 L426.5,309.3 L467.6,353.4" fill="none" stroke="#1a1a1a" stroke-width="1.2"/>
<text x="39.4" y="273.0" class="lb">Carbon Duct</text>
<path d="M115,268.9 L130,268.9 L175,320" fill="none" stroke="#1a1a1a" stroke-width="1.2"/>
<text x="909.7" y="607" style="font-size:13.8px" class="lb">BMW 135i F40</text>
<text transform="scale(1.6,1)" y="630.4" class="logo"><tspan x="514.19">E</tspan><tspan x="527.88" class="logoV">V</tspan><tspan x="545.06 560.50 576.88 590.69 606.31 623.44">ENTURI</tspan></text>
<text x="1006.8" y="620" style="font-family:'Liberation Sans',sans-serif;font-size:3.6px;fill:#555">TM</text>
</g>
</svg>
</body></html>
